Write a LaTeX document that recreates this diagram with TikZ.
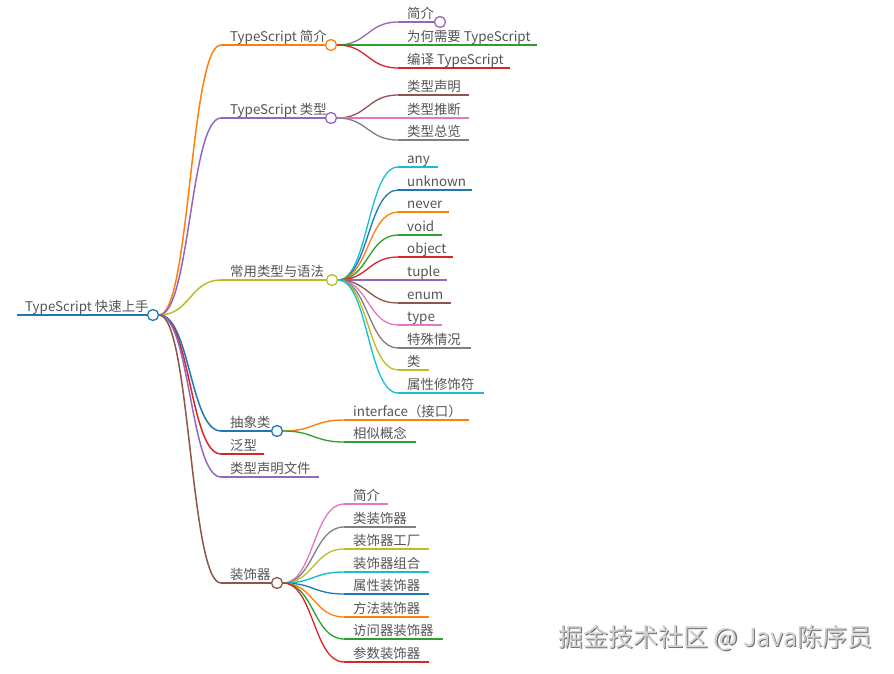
\documentclass[tikz,border=0pt]{standalone}
\usepackage{fontspec}
\setmainfont{Noto Sans CJK SC}
\usetikzlibrary{calc}
\definecolor{cA}{HTML}{1F77B4}
\definecolor{cB}{HTML}{FF7F0E}
\definecolor{cC}{HTML}{2CA02C}
\definecolor{cD}{HTML}{D62728}
\definecolor{cE}{HTML}{9467BD}
\definecolor{cF}{HTML}{8C564B}
\definecolor{cG}{HTML}{E377C2}
\definecolor{cH}{HTML}{7F7F7F}
\definecolor{cI}{HTML}{BCBD22}
\definecolor{cJ}{HTML}{17BECF}
\definecolor{txt}{HTML}{555555}
\tikzset{
  lbl/.style={anchor=base west, inner sep=0pt, text=txt, font=\fontsize{13.4}{16}\selectfont},
  mmdot/.style={circle, draw=#1, fill=white, line width=1.3pt, minimum size=11pt, inner sep=0pt},
}
\newcommand\mmlink[3]{\draw[#1] let \p1=(#2), \p2=(#3) in (\p1) .. controls ({(\x1+\x2)/2},\y1) and ({(\x1+\x2)/2},\y2) .. (\p2);}
% #1 parent, #2 name, #3 y, #4 xs, #5 xe, #6 color, #7 width, #8 text
\newcommand\mmchild[8]{%
  \coordinate (#2s) at (#4,#3);
  \coordinate (#2e) at (#5,#3);
  \node[lbl] (#2) at ({#4+9},{#3-3.5}) {#8};
  \draw[#6, line width=#7] (#2s) -- (#2e);
  \mmlink{#6, line width=#7}{#1.east}{#2s}
}
\begin{document}
\begin{tikzpicture}[x=1pt,y=-1pt]
\useasboundingbox[fill=white] (0,0) rectangle (894,673);
% dots
\node[mmdot=cA] (rootdot) at (153,315) {};
\node[mmdot=cB] (da) at (331,45) {};
\node[mmdot=cE] (db) at (331,118) {};
\node[mmdot=cI] (dc) at (332,280) {};
\node[mmdot=cA] (dd) at (277,431) {};
\node[mmdot=cF] (dg) at (277,583) {};
\node[mmdot=cE] (da1) at (440,22) {};
% root
\coordinate (roots) at (17,315);
\draw[cA, line width=2.6pt] (roots) -- (rootdot.west);
\node[lbl] (root) at (25,311.5) {TypeScript 快速上手};
% level 1
\mmchild{rootdot}{a}{45}{221}{325}{cB}{1.5pt}{TypeScript 简介}
\mmchild{rootdot}{b}{118}{221}{325}{cE}{1.5pt}{TypeScript 类型}
\mmchild{rootdot}{c}{280}{221}{326}{cI}{1.5pt}{常用类型与语法}
\mmchild{rootdot}{d}{431}{221}{271}{cA}{1.5pt}{抽象类}
\mmchild{rootdot}{e}{454}{221}{264}{cD}{1.5pt}{泛型}
\mmchild{rootdot}{f}{477}{221}{319}{cE}{1.5pt}{类型声明文件}
\mmchild{rootdot}{g}{583}{221}{271}{cF}{1.5pt}{装饰器}
% TypeScript 简介
\mmchild{da}{a1}{22}{398}{434}{cE}{1.3pt}{简介}
\mmchild{da}{a2}{45}{398}{537}{cC}{1.3pt}{为何需要 TypeScript}
\mmchild{da}{a3}{68}{398}{510}{cD}{1.3pt}{编译 TypeScript}
% TypeScript 类型
\mmchild{db}{b1}{95}{398}{469}{cF}{1.3pt}{类型声明}
\mmchild{db}{b2}{118}{398}{469}{cG}{1.3pt}{类型推断}
\mmchild{db}{b3}{140}{398}{469}{cH}{1.3pt}{类型总览}
% 常用类型与语法
\mmchild{dc}{c1}{167}{398}{438}{cJ}{1.3pt}{any}
\mmchild{dc}{c2}{190}{398}{472}{cA}{1.3pt}{unknown}
\mmchild{dc}{c3}{212}{398}{449}{cB}{1.3pt}{never}
\mmchild{dc}{c4}{235}{398}{442}{cC}{1.3pt}{void}
\mmchild{dc}{c5}{257}{398}{453}{cD}{1.3pt}{object}
\mmchild{dc}{c6}{280}{398}{447}{cE}{1.3pt}{tuple}
\mmchild{dc}{c7}{303}{398}{451}{cF}{1.3pt}{enum}
\mmchild{dc}{c8}{325}{398}{442}{cG}{1.3pt}{type}
\mmchild{dc}{c9}{348}{398}{471}{cH}{1.3pt}{特殊情况}
\mmchild{dc}{c10}{370}{398}{429}{cI}{1.3pt}{类}
\mmchild{dc}{c11}{393}{398}{484}{cJ}{1.3pt}{属性修饰符}
% 抽象类
\mmchild{dd}{d1}{420}{344}{469}{cB}{1.4pt}{interface（接口）}
\mmchild{dd}{d2}{442}{344}{416}{cC}{1.3pt}{相似概念}
% 装饰器
\mmchild{dg}{g1}{504}{344}{388}{cG}{1.3pt}{简介}
\mmchild{dg}{g2}{527}{344}{416}{cH}{1.3pt}{类装饰器}
\mmchild{dg}{g3}{549}{344}{429}{cI}{1.3pt}{装饰器工厂}
\mmchild{dg}{g4}{572}{344}{429}{cJ}{1.4pt}{装饰器组合}
\mmchild{dg}{g5}{594}{344}{429}{cA}{1.3pt}{属性装饰器}
\mmchild{dg}{g6}{617}{344}{429}{cB}{1.3pt}{方法装饰器}
\mmchild{dg}{g7}{639}{344}{443}{cC}{1.3pt}{访问器装饰器}
\mmchild{dg}{g8}{662}{344}{429}{cD}{1.3pt}{参数装饰器}
% watermark
\node[anchor=base west, inner sep=0pt, text=black!55, font=\fontsize{25}{28}\selectfont] (wms) at (559.2,647.8) {掘金技术社区 @ Java陈序员};
\node[anchor=base west, inner sep=0pt, text=black!18, font=\fontsize{25}{28}\selectfont] (wm) at (558,646.6) {掘金技术社区 @ Java陈序员};
\end{tikzpicture}
\end{document}
